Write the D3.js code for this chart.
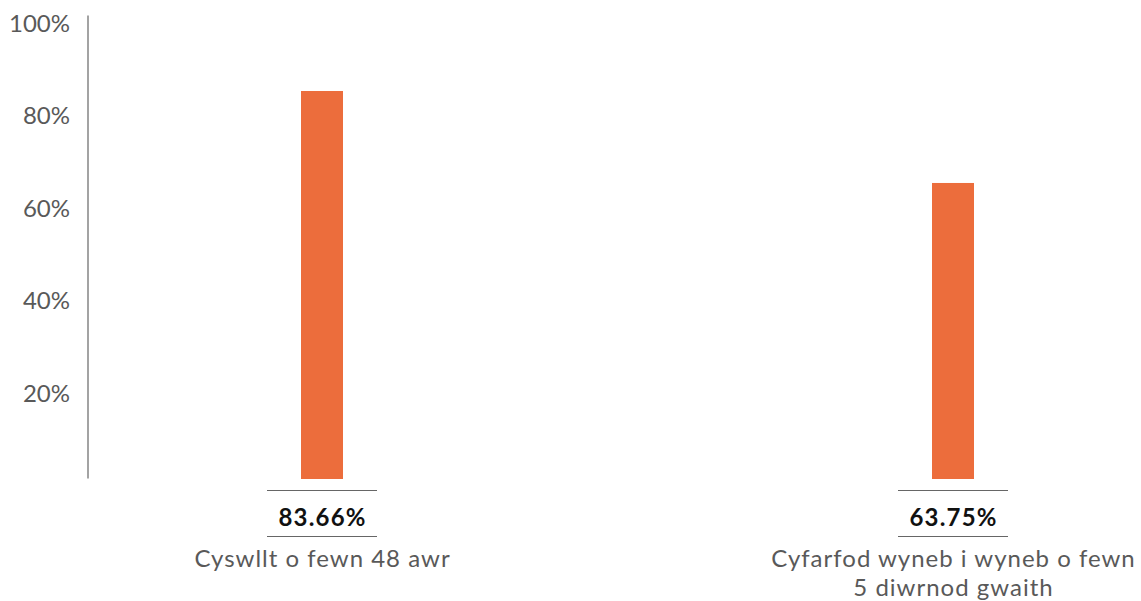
<!DOCTYPE html>
<html><head><meta charset="utf-8">
<script src="https://cdn.jsdelivr.net/npm/d3@7"></script>
<style>
html,body{margin:0;padding:0;background:#fff;}
svg{display:block;font-family:Lato,"Open Sans",sans-serif;}
</style></head>
<body><svg id="c" width="1141" height="601"></svg>
<script>
const categories = [["Cyswllt o fewn 48 awr"], ["Cyfarfod wyneb i wyneb o fewn", "5 diwrnod gwaith"]];
const values = [83.66, 63.75];
const valueLabels = ["83.66%", "63.75%"];
const tickValues = [20, 40, 60, 80, 100];
const tickLabels = ["20%", "40%", "60%", "80%", "100%"];

const svg = d3.select("#c");
const axisX = 88, yTop = 15.5, yBottom = 477.5;
const y = d3.scaleLinear().domain([0, 100]).range([yBottom, yTop]);
const x = d3.scalePoint().domain(d3.range(values.length)).range([322, 953]);
const barW = 42;

svg.append("line").attr("x1", axisX).attr("x2", axisX)
  .attr("y1", y(100)).attr("y2", y(0) + 1)
  .attr("stroke", "#666").attr("stroke-width", 1.2);

svg.selectAll("text.tick").data(tickValues).join("text")
  .attr("class", "tick")
  .attr("x", 70).attr("y", d => y(d) + 7)
  .attr("text-anchor", "end").attr("dominant-baseline", "central")
  .attr("font-size", 24).attr("fill", "#595959")
  .text((d, i) => tickLabels[i]);

svg.selectAll("rect.bar").data(values).join("rect")
  .attr("class", "bar")
  .attr("x", (d, i) => x(i) - barW / 2)
  .attr("y", d => y(d))
  .attr("width", barW)
  .attr("height", d => y(0) - y(d) + 1.5)
  .attr("fill", "#EC6D3C");

const g = svg.selectAll("g.lbl").data(values).join("g")
  .attr("class", "lbl")
  .attr("transform", (d, i) => `translate(${x(i)},0)`);
g.append("line").attr("x1", -55).attr("x2", 55).attr("y1", 490.5).attr("y2", 490.5)
  .attr("stroke", "#666").attr("stroke-width", 1.2);
g.append("line").attr("x1", -55).attr("x2", 55).attr("y1", 536.5).attr("y2", 536.5)
  .attr("stroke", "#666").attr("stroke-width", 1.2);
g.append("text").attr("x", 0.6).attr("y", 516)
  .attr("text-anchor", "middle").attr("dominant-baseline", "central")
  .attr("font-size", 24).attr("font-weight", "bold").attr("fill", "#111")
  .attr("letter-spacing", 1.2)
  .text((d, i) => valueLabels[i]);
g.each(function(d, i) {
  const sel = d3.select(this);
  categories[i].forEach((line, j) => {
    sel.append("text").attr("x", 0.5).attr("y", 557 + j * 29)
      .attr("text-anchor", "middle").attr("dominant-baseline", "central")
      .attr("font-size", 24).attr("fill", "#595959")
      .attr("letter-spacing", 1)
      .text(line);
  });
});
</script></body></html>
